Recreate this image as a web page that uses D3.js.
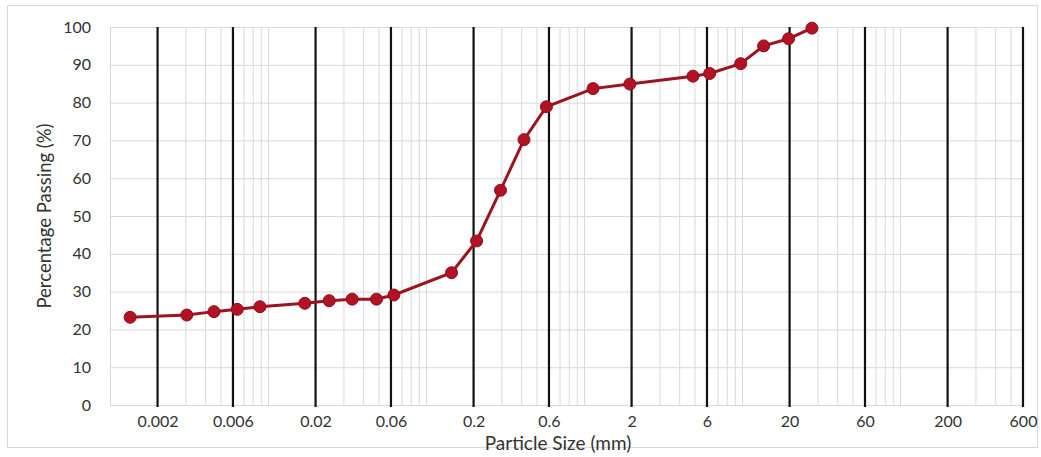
<!DOCTYPE html>
<html>
<head>
<meta charset="utf-8">
<script src="https://cdn.jsdelivr.net/npm/d3@7"></script>
<style>
  body { margin: 0; background: #fff; }
  text { font-family: Lato, "Open Sans", sans-serif; fill: #333; }
  .grid line { stroke: #d9d9d9; stroke-width: 1; }
  .grid path { display: none; }
</style>
</head>
<body>
<div id="chart-area"></div>
<script>
// grain size distribution
var particleSize = [0.00134, 0.00306, 0.00455, 0.00639, 0.00889, 0.0171, 0.0244, 0.0341,
    0.0486, 0.0626, 0.145, 0.209, 0.296, 0.417, 0.578, 1.14, 1.95, 4.89, 6.24, 9.8, 13.7, 19.7, 27.7];
var percentPassing = [23.2, 23.8, 24.7, 25.3, 26.0, 26.9, 27.6, 28.0,
    28.0, 29.1, 35.0, 43.4, 56.8, 70.2, 78.9, 83.7, 84.9, 87.0, 87.7, 90.3, 95.0, 96.9, 99.7];

var xTickLabels = ["0.002", "0.006", "0.02", "0.06", "0.2", "0.6", "2", "6", "20", "60", "200", "600"];
var yTicks = [0, 10, 20, 30, 40, 50, 60, 70, 80, 90, 100];
var xDomain = [0.001, 600];

var data = particleSize.map(function (d, i) {
    return { size: d, pass: percentPassing[i] };
});

var margin = { left: 110, right: 18, top: 27, bottom: 52 },
    width = 1041 - margin.left - margin.right,
    height = 457 - margin.top - margin.bottom;

var svg = d3.select("#chart-area").append("svg")
    .attr("width", 1041)
    .attr("height", 457);

// chart area border
svg.append("rect")
    .attr("x", 7.5).attr("y", 5.5)
    .attr("width", 1030).attr("height", 442)
    .attr("fill", "none")
    .attr("stroke", "#d9d9d9");

var g = svg.append("g")
    .attr("transform", "translate(" + margin.left + "," + margin.top + ")");

var x = d3.scaleLog().domain(xDomain).range([0, width]);
var y = d3.scaleLinear().domain([0, 100]).range([height, 0]);

// minor log grid (1..9 x 10^k)
var minor = [];
for (var k = -3; k <= 2; k++) {
    for (var n = 1; n <= 9; n++) {
        var v = n * Math.pow(10, k);
        if (v >= xDomain[0] && v <= xDomain[1] && n !== 2 && n !== 6) minor.push(v);
    }
}

g.append("g")
    .attr("class", "grid")
    .call(d3.axisBottom(x).tickValues(minor).tickSize(height).tickFormat(""));

g.append("g")
    .attr("class", "grid")
    .call(d3.axisLeft(y).tickValues(yTicks).tickSize(-width).tickFormat(""));

// y axis labels
var yAxis = g.append("g")
    .call(d3.axisLeft(y).tickValues(yTicks).tickSize(0).tickPadding(19));
yAxis.select(".domain").remove();
yAxis.selectAll("text")
    .style("font-family", "Lato, sans-serif")
    .style("font-size", "16px")
    .attr("fill", "#333");

// black major lines + x labels
var xAxis = g.append("g")
    .attr("transform", "translate(0," + height + ")")
    .call(d3.axisBottom(x)
        .tickValues(xTickLabels.map(Number))
        .tickSize(0)
        .tickPadding(11)
        .tickFormat(function (d, i) { return xTickLabels[i]; }));
xAxis.select(".domain").remove();
xAxis.selectAll("text")
    .style("font-family", "Lato, sans-serif")
    .style("font-size", "16px")
    .attr("fill", "#333");

g.append("g")
    .selectAll("line")
    .data(xTickLabels.map(Number))
    .enter().append("line")
    .attr("x1", function (d) { return x(d); })
    .attr("x2", function (d) { return x(d); })
    .attr("y1", 0)
    .attr("y2", height + 2)
    .attr("stroke", "#111")
    .attr("stroke-width", 2.2);

// axis titles
svg.append("text")
    .attr("x", 558)
    .attr("y", 450)
    .attr("text-anchor", "middle")
    .style("font-size", "19px")
    .text("Particle Size (mm)");

svg.append("text")
    .attr("transform", "rotate(-90)")
    .attr("x", -(margin.top + height / 2))
    .attr("y", 51)
    .attr("text-anchor", "middle")
    .style("font-size", "18.5px")
    .text("Percentage Passing (%)");

// curve
var lineGenerator = d3.line()
    .x(function (d) { return x(d.size); })
    .y(function (d) { return y(d.pass); });

g.append("path")
    .datum(data)
    .attr("fill", "none")
    .attr("stroke", "#9b1520")
    .attr("stroke-width", 3)
    .attr("d", lineGenerator);

g.selectAll("circle.pt")
    .data(data)
    .enter().append("circle")
    .attr("class", "pt")
    .attr("cx", function (d) { return x(d.size); })
    .attr("cy", function (d) { return y(d.pass); })
    .attr("r", 6)
    .attr("fill", "#b31224")
    .attr("stroke", "#8e0f1a")
    .attr("stroke-width", 1);
</script>
</body>
</html>
